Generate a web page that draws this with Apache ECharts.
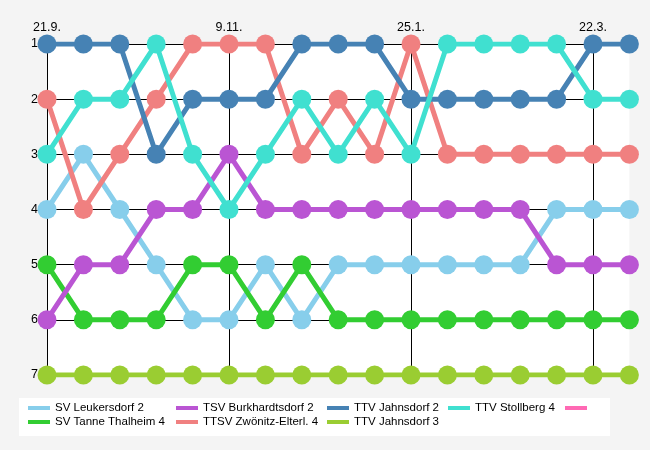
<!DOCTYPE html>
<html>
<head>
<meta charset="utf-8">
<script src="https://cdn.jsdelivr.net/npm/echarts@6/dist/echarts.min.js"></script>
<style>
html,body{margin:0;padding:0;background:#f4f4f4;}
#chart{width:650px;height:450px;}
</style>
</head>
<body>
<div id="chart"></div>
<script>
// matchdays and the date labels shown at the top
var rounds = ['1','2','3','4','5','6','7','8','9','10','11','12','13','14','15','16','17'];
var dateLabels = ['21.9.','','','','','9.11.','','','','','25.1.','','','','','22.3.',''];

// table positions per round
var leukersdorf2    = [4,3,4,5,6,6,5,6,5,5,5,5,5,5,4,4,4];
var tanneThalheim4  = [5,6,6,6,5,5,6,5,6,6,6,6,6,6,6,6,6];
var burkhardtsdorf2 = [6,5,5,4,4,3,4,4,4,4,4,4,4,4,5,5,5];
var zwoenitz4       = [2,4,3,2,1,1,1,3,2,3,1,3,3,3,3,3,3];
var jahnsdorf2      = [1,1,1,3,2,2,2,1,1,1,2,2,2,2,2,1,1];
var jahnsdorf3      = [7,7,7,7,7,7,7,7,7,7,7,7,7,7,7,7,7];
var stollberg4      = [3,2,2,1,3,4,3,2,3,2,3,1,1,1,1,2,2];

var teamNames = ['SV Leukersdorf 2','SV Tanne Thalheim 4','TSV Burkhardtsdorf 2','TTSV Zwönitz-Elterl. 4','TTV Jahnsdorf 2','TTV Jahnsdorf 3','TTV Stollberg 4',' '];
var teamData = [leukersdorf2, tanneThalheim4, burkhardtsdorf2, zwoenitz4, jahnsdorf2, jahnsdorf3, stollberg4, []];
var teamColors = ['#87CEEB','#32CD32','#BA55D3','#F08080','#4682B4','#9ACD32','#40E0D0','#FF69B4'];

var shown = function (i) { return dateLabels[i] !== ''; };

var series = teamNames.map(function (n, k) {
  return {
    name: n, type: 'line', data: teamData[k],
    symbol: 'circle', symbolSize: 19,
    lineStyle: {width: 5, color: teamColors[k]},
    itemStyle: {color: teamColors[k]},
    emphasis: {disabled: true}
  };
});

var legendCols = [
  {left: 28, data: [teamNames[0], teamNames[1]]},
  {left: 176, data: [teamNames[2], teamNames[3]]},
  {left: 327, data: [teamNames[4], teamNames[5]]},
  {left: 448, data: [teamNames[6]]},
  {left: 565, data: [teamNames[7]]}
];
var legends = legendCols.map(function (c) {
  return {
    left: c.left, top: 401, orient: 'vertical', padding: 0, itemGap: 0,
    itemWidth: 22, itemHeight: 4, icon: 'rect', z: 10,
    selectedMode: false, data: c.data,
    textStyle: {fontFamily: 'Liberation Sans, Arial, sans-serif', fontSize: 11.5, color: '#000', lineHeight: 14, padding: 0}
  };
});

var chart = echarts.init(document.getElementById('chart'), null, {renderer: 'canvas'});
chart.setOption({
  animation: false,
  backgroundColor: '#f4f4f4',
  graphic: [{type: 'rect', z: 0, shape: {x: 19, y: 398, width: 591, height: 38}, style: {fill: '#ffffff'}}],
  grid: {left: 47, right: 20.6, top: 44, bottom: 75, show: true, backgroundColor: '#ffffff', borderWidth: 0},
  legend: legends,
  xAxis: {
    type: 'category', position: 'top', boundaryGap: false, data: rounds,
    axisLine: {show: true, lineStyle: {color: '#000', width: 1}},
    axisTick: {show: true, length: 5, interval: shown, lineStyle: {color: '#000'}},
    axisLabel: {interval: shown, margin: 10, fontFamily: 'Liberation Sans, Arial, sans-serif', fontSize: 12.5, color: '#000',
      formatter: function (v, i) { return dateLabels[i]; }},
    splitLine: {show: true, interval: shown, lineStyle: {color: '#000', width: 1}}
  },
  yAxis: {
    type: 'value', min: 1, max: 7, interval: 1, inverse: true,
    axisLine: {show: true, lineStyle: {color: '#000', width: 1}},
    axisTick: {show: true, length: 7, lineStyle: {color: '#000'}},
    axisLabel: {margin: 9, fontFamily: 'Liberation Sans, Arial, sans-serif', fontSize: 12.5, color: '#000'},
    splitLine: {show: true, lineStyle: {color: '#000', width: 1}}
  },
  series: series
});
</script>
</body>
</html>
